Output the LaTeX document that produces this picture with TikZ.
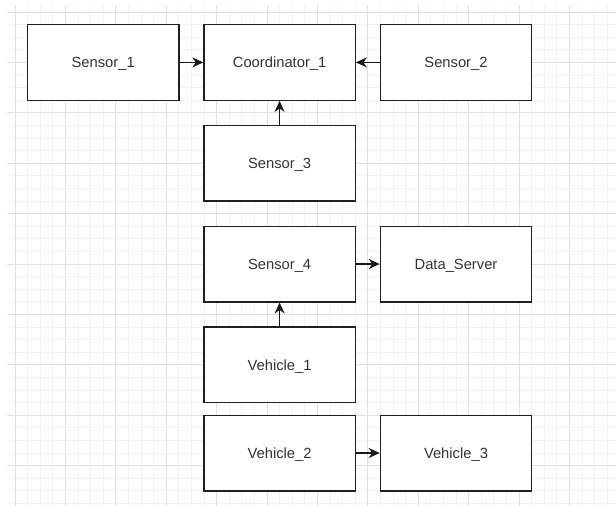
\documentclass[tikz,border=0pt]{standalone}
\usepackage{fontspec}
\setmainfont{Liberation Sans}
\usetikzlibrary{arrows.meta}
\begin{document}
\begin{tikzpicture}[x=1pt,y=-1pt,
  box/.style={draw=black!88, line width=1.4pt, fill=white, minimum width=151.2pt, minimum height=75.6pt, inner sep=0pt, text depth=0pt, font=\fontsize{14.75pt}{17pt}\selectfont, text=black!80},
  conn/.style={-{Stealth[length=11pt,width=10pt,inset=3.5pt]}, line width=1.3pt, black!90},
  minorg/.style={draw=black!5, line width=0.8pt},
  majorg/.style={draw=black!12, line width=0.9pt}]
\useasboundingbox (0,0) rectangle (616,506);
\fill[white] (0,0) rectangle (616,506);
\begin{scope}
\clip (7,5) rectangle (616,506);
\foreach \k in {-1,...,48} \draw[minorg] (15+12.6*\k,0) -- (15+12.6*\k,506);
\foreach \k in {-1,...,40} \draw[minorg] (0,12+12.6*\k) -- (616,12+12.6*\k);
\foreach \k in {0,...,12} \draw[majorg] (15+50.4*\k,0) -- (15+50.4*\k,506);
\foreach \k in {0,...,9} \draw[majorg] (0,12+50.4*\k) -- (616,12+50.4*\k);
\end{scope}
\node[box] (s1) at (103.2,62.4) {Sensor\_1};
\node[box] (c1) at (279.6,62.4) {Coordinator\_1};
\node[box] (s2) at (456,62.4) {Sensor\_2};
\node[box] (s3) at (279.6,163.2) {Sensor\_3};
\node[box] (s4) at (279.6,264) {Sensor\_4};
\node[box] (ds) at (456,264) {Data\_Server};
\node[box] (v1) at (279.6,364.8) {Vehicle\_1};
\node[box] (v2) at (279.6,453) {Vehicle\_2};
\node[box] (v3) at (456,453) {Vehicle\_3};
\draw[conn] (s1) -- (c1);
\draw[conn] (s2) -- (c1);
\draw[conn] (s3) -- (c1);
\draw[conn] (s4) -- (ds);
\draw[conn] (v1) -- (s4);
\draw[conn] (v2) -- (v3);
\end{tikzpicture}
\end{document}
